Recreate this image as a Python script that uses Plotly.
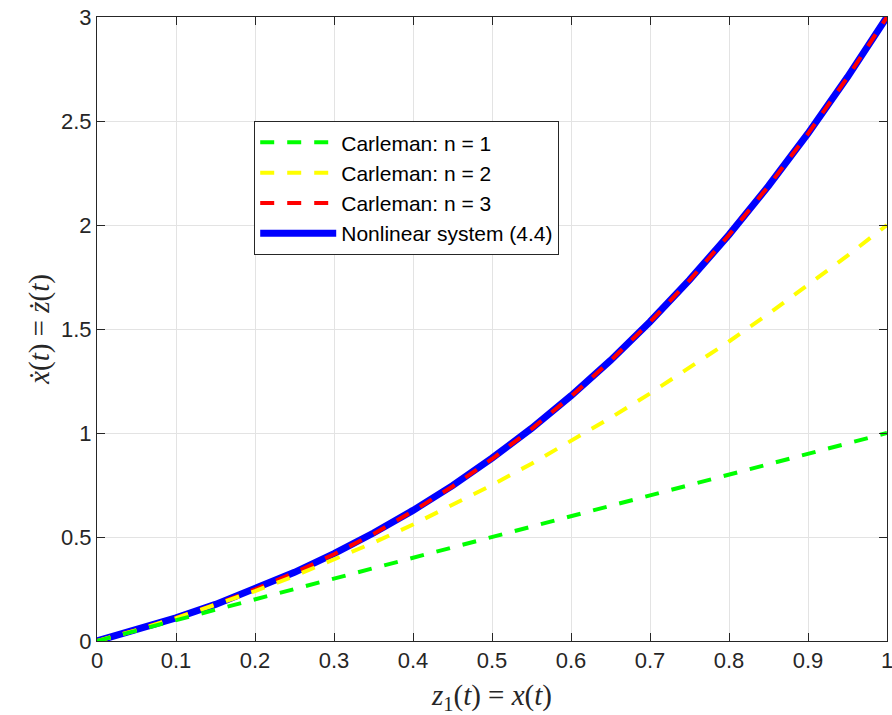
import plotly.graph_objects as go

# Sample points along z1(t) = x(t)
x_vals = [0.0, 0.05, 0.1, 0.15, 0.2, 0.25, 0.3, 0.35, 0.4, 0.45, 0.5,
          0.55, 0.6, 0.65, 0.7, 0.75, 0.8, 0.85, 0.9, 0.95, 1.0]

# Carleman linearisation, truncation order 1
carleman_n1 = [0.0, 0.05, 0.1, 0.15, 0.2, 0.25, 0.3, 0.35, 0.4, 0.45, 0.5,
               0.55, 0.6, 0.65, 0.7, 0.75, 0.8, 0.85, 0.9, 0.95, 1.0]
# Carleman linearisation, truncation order 2
carleman_n2 = [0.0, 0.0525, 0.11, 0.1725, 0.24, 0.3125, 0.39, 0.4725, 0.56, 0.6525, 0.75,
               0.8525, 0.96, 1.0725, 1.19, 1.3125, 1.44, 1.5725, 1.71, 1.8525, 2.0]
# Carleman linearisation, truncation order 3
carleman_n3 = [0.0, 0.0526, 0.111, 0.176, 0.248, 0.328, 0.417, 0.515, 0.624, 0.743, 0.875,
               1.019, 1.176, 1.347, 1.533, 1.734, 1.952, 2.187, 2.439, 2.710, 3.0]
# Nonlinear system (4.4)
nonlinear = [0.0, 0.0526, 0.111, 0.176, 0.249, 0.330, 0.420, 0.519, 0.628, 0.747, 0.879,
             1.022, 1.179, 1.349, 1.535, 1.736, 1.953, 2.188, 2.440, 2.711, 3.0]

x_ticks = [0, 0.1, 0.2, 0.3, 0.4, 0.5, 0.6, 0.7, 0.8, 0.9, 1]
x_tick_text = ["0", "0.1", "0.2", "0.3", "0.4", "0.5", "0.6", "0.7", "0.8", "0.9", "1"]
y_ticks = [0, 0.5, 1, 1.5, 2, 2.5, 3]
y_tick_text = ["0", "0.5", "1", "1.5", "2", "2.5", "3"]

DASH = "14px,13px"
AXIS_COLOR = "#262626"
GRID_COLOR = "#e3e3e3"
SERIF = "Liberation Serif, DejaVu Serif, serif"
SANS = "Liberation Sans, Arial, sans-serif"

fig = go.Figure()

fig.add_trace(go.Scatter(
    x=x_vals, y=nonlinear, mode="lines", name="Nonlinear system (4.4)",
    line=dict(color="#0000ff", width=7), legendrank=4))
fig.add_trace(go.Scatter(
    x=x_vals, y=carleman_n3, mode="lines", name="Carleman: n = 3",
    line=dict(color="#ff0000", width=4, dash=DASH), legendrank=3))
fig.add_trace(go.Scatter(
    x=x_vals, y=carleman_n2, mode="lines", name="Carleman: n = 2",
    line=dict(color="#ffff00", width=4, dash=DASH), legendrank=2))
fig.add_trace(go.Scatter(
    x=x_vals, y=carleman_n1, mode="lines", name="Carleman: n = 1",
    line=dict(color="#00ff00", width=4, dash=DASH), legendrank=1))

axis_common = dict(
    showline=True, linecolor=AXIS_COLOR, linewidth=1, mirror="ticks",
    ticks="inside", ticklen=8, tickcolor=AXIS_COLOR, tickwidth=1,
    showgrid=True, gridcolor=GRID_COLOR, gridwidth=1, zeroline=False,
    ticklabeloverflow="allow", automargin=False,
    tickfont=dict(family=SANS, size=22, color="#262626"),
)

fig.update_xaxes(
    range=[0, 1], tickvals=x_ticks, ticktext=x_tick_text,
    title=dict(text="<i>z</i><sub>1</sub>(<i>t</i>) = <i>x</i>(<i>t</i>)",
               font=dict(family=SERIF, size=29, color="#262626"),
               standoff=15),
    **axis_common)
fig.update_yaxes(
    range=[0, 3], tickvals=y_ticks, ticktext=y_tick_text,
    title=dict(text="<i>\u1e8b</i>(<i>t</i>) = <i>\u017c</i>(<i>t</i>)",
               font=dict(family=SERIF, size=29, color="#262626"),
               standoff=2),
    **axis_common)

fig.update_layout(
    width=892, height=715,
    margin=dict(l=97, r=5, t=17, b=74),
    paper_bgcolor="white", plot_bgcolor="white",
    showlegend=True,
    legend=dict(
        x=0.199, y=0.833, xanchor="left", yanchor="top",
        bgcolor="white", bordercolor=AXIS_COLOR, borderwidth=1,
        font=dict(family=SANS, size=21, color="black"),
        itemwidth=76, tracegroupgap=0,
    ),
)

fig.write_html("out.html")
